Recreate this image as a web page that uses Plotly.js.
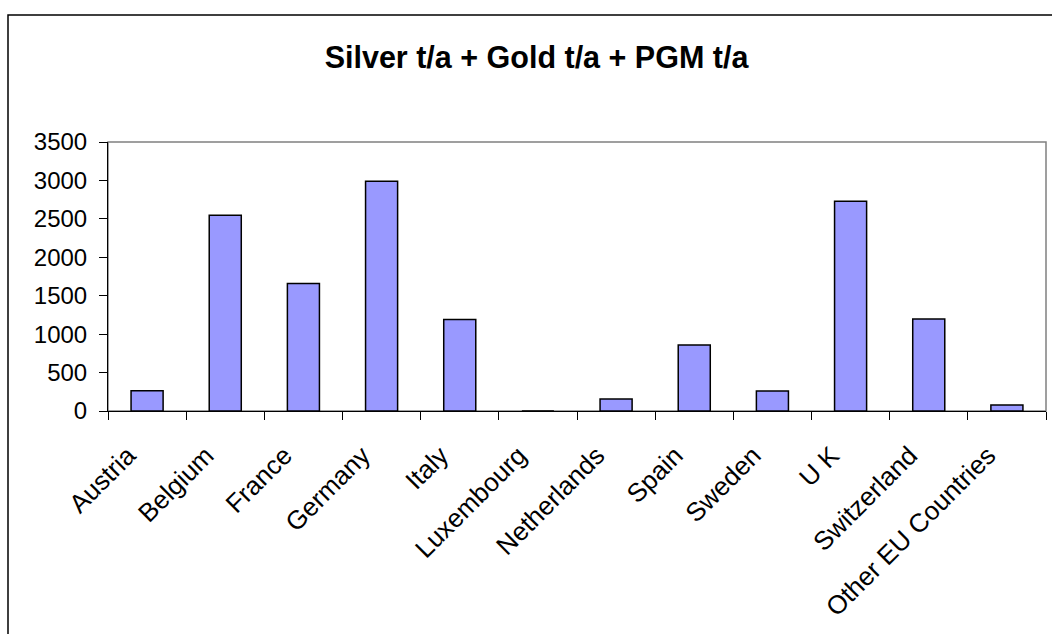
<!DOCTYPE html>
<html>
<head>
<meta charset="utf-8">
<script src="https://cdn.plot.ly/plotly-3.0.1.min.js"></script>
<style>html,body{margin:0;padding:0;background:#fff;}#chart{width:1052px;height:634px;}</style>
</head>
<body>
<div id="chart"></div>
<script>
const countries = ["Austria","Belgium","France","Germany","Italy","Luxembourg","Netherlands","Spain","Sweden","U K","Switzerland","Other EU Countries"];
const totals = [262, 2548, 1660, 2990, 1192, 0, 156, 858, 260, 2730, 1196, 78];
const yTicks = [0,500,1000,1500,2000,2500,3000,3500];

const L = 108, R = 6, T = 142, B = 223, W = 1052, H = 634;
const pw = W - L - R, ph = H - T - B;

const trace = {
  type: 'bar',
  x: countries,
  y: totals,
  marker: {color: '#9999FF', line: {color: '#000000', width: 1.5}},
  hoverinfo: 'x+y'
};

const layout = {
  width: W, height: H,
  margin: {l: L, r: R, t: T, b: B, pad: 0},
  paper_bgcolor: '#ffffff',
  plot_bgcolor: '#ffffff',
  font: {family: 'Arial, "Liberation Sans", sans-serif', color: '#000000', size: 24},
  title: {
    text: '<b>Silver t/a + Gold t/a + PGM t/a</b>',
    font: {size: 30.5, family: 'Arial, "Liberation Sans", sans-serif', color: '#000'},
    x: 0.51, xanchor: 'center', y: 1 - 57/H, yanchor: 'middle'
  },
  bargap: 0.59,
  showlegend: false,
  xaxis: {
    type: 'category',
    tickangle: -45,
    ticks: 'outside', ticklen: 8, tickwidth: 1, tickcolor: '#000',
    tickson: 'boundaries',
    showline: true, linecolor: '#000', linewidth: 1,
    showgrid: false, zeroline: false,
    tickfont: {size: 26},
    ticklabelstandoff: 18,
    ticklabelshift: -19
  },
  yaxis: {
    range: [0, 3500],
    tickvals: yTicks,
    ticktext: yTicks.map(String),
    ticks: 'outside', ticklen: 8, tickwidth: 1, tickcolor: '#000',
    showline: true, linecolor: '#000', linewidth: 1,
    showgrid: false, zeroline: false,
    tickfont: {size: 24},
    ticklabelstandoff: 7
  },
  shapes: [
    {type: 'rect', xref: 'paper', yref: 'paper', x0: 0, x1: 1, y0: 0, y1: 1,
     line: {color: '#808080', width: 1.5}, layer: 'below'},
    {type: 'rect', xref: 'paper', yref: 'paper',
     x0: (8 - L)/pw, x1: (W + 20 - L)/pw, y0: -(H + 20 - T - ph)/ph, y1: (H - B - 15)/ph,
     line: {color: '#000000', width: 1.5}, layer: 'below'}
  ]
};

Plotly.newPlot('chart', [trace], layout, {displayModeBar: false, staticPlot: true});
</script>
</body>
</html>
